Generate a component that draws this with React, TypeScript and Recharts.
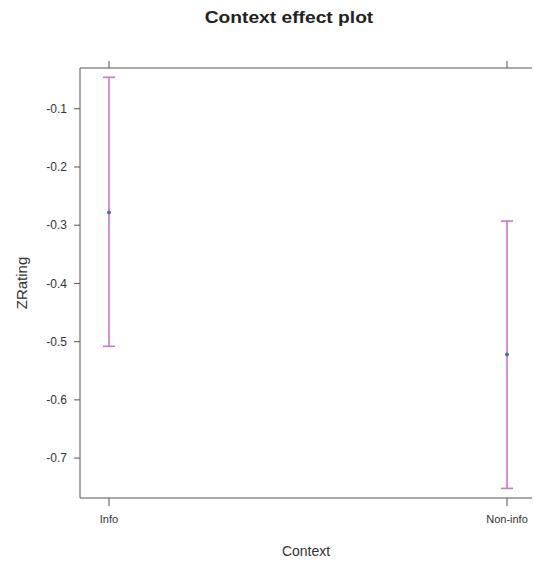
import React from 'react'
import { ComposedChart, Scatter, ErrorBar, XAxis, YAxis } from 'recharts'

const contexts = ['Info', 'Non-info']
const fitValues = [-0.278, -0.522]
const lowerValues = [-0.508, -0.752]
const upperValues = [-0.046, -0.293]
const yTicks = [-0.7, -0.6, -0.5, -0.4, -0.3, -0.2, -0.1]

const data = contexts.map((c, i) => ({
  context: c,
  fit: fitValues[i],
  err: [fitValues[i] - lowerValues[i], upperValues[i] - fitValues[i]],
}))

const font = '"Liberation Sans", Arial, sans-serif'
const axisColor = '#555'
const tickText = { fill: '#333', fontSize: 12, fontFamily: font }

export default function App() {
  return (
    <div style={{ position: 'absolute', left: 0, top: 0, width: 534, height: 561, background: '#fff', fontFamily: font }}>
      <div
        style={{
          position: 'absolute', left: 189, top: 9, width: 200, textAlign: 'center',
          fontSize: 16, fontWeight: 'bold', color: '#222', transform: 'scaleX(1.2)', whiteSpace: 'nowrap',
        }}
      >
        Context effect plot
      </div>
      <ComposedChart width={534} height={561} data={data} margin={{ top: 60, right: 2, bottom: 33, left: 35 }}>
        <XAxis
          dataKey="context"
          xAxisId="bottom"
          type="category"
          scale="point"
          padding={{ left: 29, right: 25 }}
          height={30}
          stroke={axisColor}
          tickSize={8}
          tickMargin={9}
          tick={{ ...tickText, fontSize: 11 }}
          label={{ value: 'Context', position: 'insideBottom', offset: -28, fill: '#333', fontSize: 14, fontFamily: font }}
        />
        <XAxis
          dataKey="context"
          xAxisId="top"
          orientation="top"
          type="category"
          scale="point"
          padding={{ left: 29, right: 25 }}
          height={8}
          stroke={axisColor}
          tickSize={7}
          tickFormatter={() => ''}
        />
        <YAxis
          yAxisId="left"
          type="number"
          domain={[-0.7685, -0.03]}
          ticks={yTicks}
          width={45}
          stroke={axisColor}
          tickSize={6}
          tickMargin={7}
          tick={tickText}
          label={{ value: 'ZRating', angle: -90, position: 'insideLeft', offset: -13, fill: '#333', fontSize: 15, fontFamily: font, style: { textAnchor: 'middle' } }}
        />
        <YAxis
          yAxisId="right"
          orientation="right"
          type="number"
          domain={[-0.7685, -0.03]}
          width={0}
          stroke={axisColor}
          tick={false}
          tickLine={false}
        />
        <Scatter
          dataKey="fit"
          xAxisId="bottom"
          yAxisId="left"
          fill="#4a6fa5"
          isAnimationActive={false}
          shape={(props: any) => <circle cx={props.cx} cy={props.cy} r={2} fill="#4a6fa5" />}
        >
          <ErrorBar dataKey="err" direction="y" width={6} stroke="#c878c8" strokeWidth={1.6} isAnimationActive={false} />
        </Scatter>
      </ComposedChart>
    </div>
  )
}
